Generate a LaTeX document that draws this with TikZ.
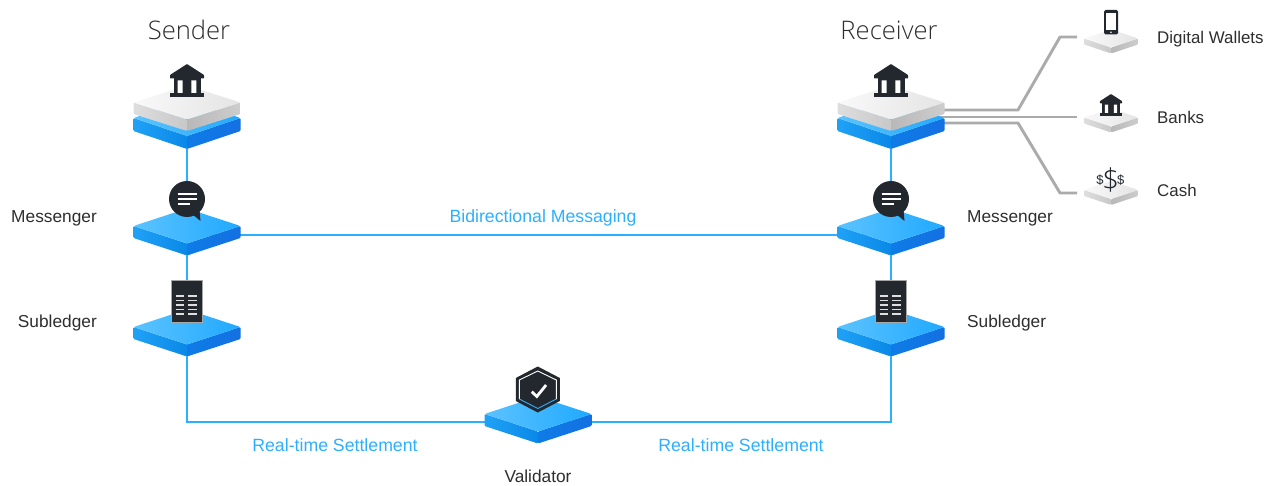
\documentclass[tikz,border=0pt]{standalone}
\usepackage{fontspec}
\setmainfont{Liberation Sans}
\newfontfamily\lightfont{Open Sans Light}
\definecolor{skyline}{HTML}{2BB0FF}
\definecolor{inkdark}{HTML}{23282F}
\definecolor{grayline}{HTML}{ABABAB}
\definecolor{labelgray}{HTML}{2E2E2E}
\definecolor{bluetopA}{HTML}{5CC3FF}
\definecolor{bluetopB}{HTML}{20A9FF}
\definecolor{blueleftA}{HTML}{1FA2F6}
\definecolor{blueleftB}{HTML}{0A88E8}
\definecolor{bluerightA}{HTML}{0E7CE6}
\definecolor{bluerightB}{HTML}{1470E2}
\definecolor{silvertopA}{HTML}{F9F9F9}
\definecolor{silvertopB}{HTML}{E4E4E4}
\definecolor{silverleftA}{HTML}{DEDEDE}
\definecolor{silverleftB}{HTML}{C8C8C8}
\definecolor{silverrightA}{HTML}{B8B8B8}
\definecolor{silverrightB}{HTML}{CDCDCD}
\usetikzlibrary{calc}
\tikzset{
  blueconn/.style={draw=skyline,line width=2.9pt},
  grayconn/.style={draw=grayline,line width=2.9pt,line join=round},
  lbl/.style={font=\fontsize{17.3}{20}\selectfont,text=labelgray,inner sep=0pt},
  sidelbl/.style={font=\fontsize{16.9}{20}\selectfont,text=labelgray,inner sep=0pt},
  bluelbl/.style={font=\fontsize{17.7}{20}\selectfont,text=skyline,inner sep=0pt},
  headlbl/.style={font=\lightfont\fontsize{25.6}{30}\selectfont,text=labelgray,inner sep=0pt},
  icondark/.style={fill=inkdark,draw=none},
}
% #1 x, #2 y, #3 half width, #4 half height, #5 thickness, #6 palette prefix
\newcommand{\slabshape}[6]{%
  \begin{scope}[shift={(#1,#2)}]
    \shade[left color=#6leftA,right color=#6leftB,rounded corners=1pt]
      (-#3,0) -- (0,#4) -- (0,#4+#5) -- (-#3,#5) -- cycle;
    \shade[left color=#6rightA,right color=#6rightB,rounded corners=1pt]
      (#3,0) -- (0,#4) -- (0,#4+#5) -- (#3,#5) -- cycle;
    \shade[left color=#6topA,right color=#6topB,rounded corners=1.5pt]
      (-#3,0) -- (0,-#4) -- (#3,0) -- (0,#4) -- cycle;
  \end{scope}}
% #1 x centre, #2 y of peak, #3 scale
\newcommand{\bankicon}[3]{%
  \begin{scope}[shift={(#1,#2)},scale=#3]
    \fill[icondark,rounded corners=.5pt] (0,0) -- (17,11) -- (17,14.5) -- (-17,14.5) -- (-17,11) -- cycle;
    \fill[icondark] (-13.5,14) rectangle (13.5,30);
    \fill[white] (-9.3,16.5) rectangle (-4.3,30) (4.3,16.5) rectangle (9.3,30);
    \fill[icondark] (-17,29.5) rectangle (17,33.5);
  \end{scope}}
% #1 x centre, #2 y centre
\newcommand{\chaticon}[2]{%
  \begin{scope}[shift={(#1,#2)}]
    \fill[icondark] (0,0) circle (18);
    \fill[icondark] (5,15) -- (13.5,22) -- (12.5,11) -- cycle;
    \draw[white,line width=1.6pt] (-9.5,-5) -- (9.5,-5) (-9.5,0) -- (9.5,0) (-9.5,5) -- (2.5,5);
  \end{scope}}
% #1 x centre, #2 y top
\newcommand{\docicon}[2]{%
  \begin{scope}[shift={(#1,#2)}]
    \fill[inkdark,draw=gray!70,line width=.3pt] (-15.2,0) rectangle (15.2,41.7);
    \foreach \yy in {16,20.6,25,29.3,34}{
      \draw[white!75!gray,line width=1.3pt] (-11,\yy) -- (-2.6,\yy) (1.4,\yy) -- (10.4,\yy);
    }
  \end{scope}}
\begin{document}
\begin{tikzpicture}[x=1pt,y=-1pt]
\fill[white] (0,0) rectangle (1272,486);
\useasboundingbox (0,0) rectangle (1272,486);

% connector anchors
\coordinate (sBank) at (187,122);
\coordinate (sMsg) at (187,235);
\coordinate (sSub) at (187,340);
\coordinate (rBank) at (891,122);
\coordinate (rMsg) at (891,235);
\coordinate (rSub) at (891,340);
\coordinate (val) at (538,422);
\coordinate (rTop) at (930,110);
\coordinate (rMid) at (930,117);
\coordinate (rBot) at (930,123);
\coordinate (kneeA) at (1018,110);
\coordinate (kneeB) at (1018,123);
\coordinate (wallet) at (1077,37);
\coordinate (walletBend) at (1060,37);
\coordinate (bank) at (1077,117);
\coordinate (cash) at (1077,193);
\coordinate (cashBend) at (1060,193);

% connectors
\draw[blueconn] (sBank) -- (sMsg);
\draw[blueconn] (sMsg) -- (sSub);
\draw[blueconn] (sSub) |- (val);
\draw[blueconn] (rBank) -- (rMsg);
\draw[blueconn] (rMsg) -- (rSub);
\draw[blueconn] (rSub) |- (val);
\draw[blueconn] (sMsg) -- (rMsg);
\draw[grayconn] (rTop) -- (kneeA) -- (walletBend) -- (wallet);
\draw[grayconn] (rMid) -- (bank);
\draw[grayconn] (rBot) -- (kneeB) -- (cashBend) -- (cash);

% platforms
\slabshape{187}{118}{53.5}{18}{13}{blue}
\slabshape{187}{102.5}{53.5}{17}{11.5}{silver}
\slabshape{187}{226}{53.5}{17.5}{12}{blue}
\slabshape{187}{327}{53.5}{17.5}{12}{blue}
\slabshape{891}{118}{53.5}{18}{13}{blue}
\slabshape{891}{102.5}{53.5}{17}{11.5}{silver}
\slabshape{891}{226}{53.5}{17.5}{12}{blue}
\slabshape{891}{327}{53.5}{17.5}{12}{blue}
\slabshape{538}{414}{53.5}{17.5}{12}{blue}
\slabshape{1111}{38.5}{27}{9}{6}{silver}
\slabshape{1111}{117.5}{27}{9}{6}{silver}
\slabshape{1111}{190}{27}{9}{6}{silver}

% icons
\bankicon{187}{64}{1}
\bankicon{891}{64}{1}
\chaticon{187}{199}
\chaticon{891}{199}
\docicon{186.5}{280}
\docicon{890.5}{280}
\bankicon{1111}{94}{.65}

% validator hexagon
\begin{scope}[shift={(537.8,389.5)}]
  \fill[icondark] (0,-23) -- (22,-11.5) -- (22,11.5) -- (0,23) -- (-22,11.5) -- (-22,-11.5) -- cycle;
  \draw[white,line width=.9pt] (-18.5,9.5) -- (-18.5,-9.5) -- (0,-18.5) -- (18.5,-9.5) -- (18.5,9.5);
  \draw[skyline,line width=.9pt] (18.5,9.5) -- (0,19) -- (-18.5,9.5);
  \draw[white,line width=2.8pt] (-6,2.2) -- (-1,7) -- (8.3,-4.5);
\end{scope}

% phone
\fill[icondark,rounded corners=1.5pt] (1104,10) rectangle (1118,34.5);
\fill[white] (1106,13.3) rectangle (1116,30);
\fill[white] (1111,32.2) circle (.9);

% cash
\node[inner sep=0pt,text=inkdark,font=\lightfont\fontsize{30}{31}\selectfont] (bigDollar) at (1110.7,180) {\$};
\node[inner sep=0pt,text=inkdark,font=\fontsize{13}{14}\selectfont] (leftDollar) at (1100,180.5) {\$};
\node[inner sep=0pt,text=inkdark,font=\fontsize{13}{14}\selectfont] (rightDollar) at (1120.7,180.5) {\$};

% labels
\node[headlbl] (senderT) at (189,30) {Sender};
\node[headlbl] (receiverT) at (889,30) {Receiver};
\node[lbl,anchor=east] (msgL) at (97,218) {Messenger};
\node[lbl,anchor=east] (subL) at (97,323.5) {Subledger};
\node[lbl,anchor=west] (msgR) at (967,218) {Messenger};
\node[lbl,anchor=west] (subR) at (967,323.5) {Subledger};
\node[sidelbl,anchor=west] (walletT) at (1157,39) {Digital Wallets};
\node[sidelbl,anchor=west] (banksT) at (1157,117.5) {Banks};
\node[sidelbl,anchor=west] (cashT) at (1157,190.5) {Cash};
\node[lbl] (validT) at (538,476.5) {Validator};
\node[bluelbl] (biT) at (543,217.5) {Bidirectional Messaging};
\node[bluelbl] (rtL) at (335,445.5) {Real-time Settlement};
\node[bluelbl] (rtR) at (741,445.5) {Real-time Settlement};
\end{tikzpicture}
\end{document}
